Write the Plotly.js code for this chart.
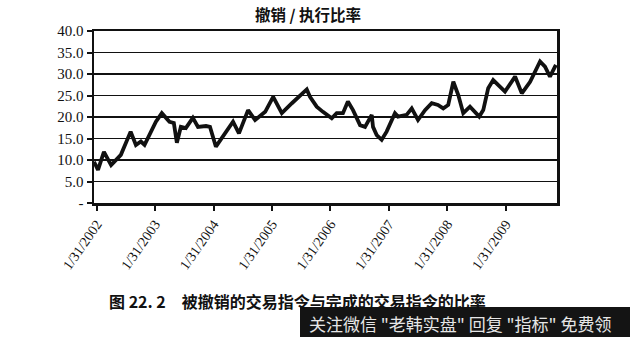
<!DOCTYPE html>
<html>
<head>
<meta charset="utf-8">
<script src="https://cdn.plot.ly/plotly-3.0.1.min.js"></script>
<style>html,body{margin:0;padding:0;background:#fff;}#chart{width:630px;height:337px;}</style>
</head>
<body>
<div id="chart"></div>
<script>
var chartTitle = "撤销 / 执行比率";
var caption = "图 22. 2　被撤销的交易指令与完成的交易指令的比率";
var watermark = "关注微信 \"老韩实盘\" 回复 \"指标\" 免费领";

var dates = ["2002-01-14","2002-02-08","2002-03-17","2002-05-01","2002-07-01","2002-08-31","2002-10-03","2002-11-03","2002-11-26",
"2003-01-05","2003-02-05","2003-03-14","2003-05-01","2003-05-28","2003-06-16","2003-07-11","2003-08-11","2003-09-24","2003-10-26","2003-12-15",
"2004-01-09","2004-02-15","2004-04-12","2004-06-01","2004-07-08","2004-09-03","2004-10-17","2004-12-19",
"2005-02-07","2005-04-02","2005-06-04","2005-07-25","2005-09-05","2005-09-25","2005-11-06","2005-12-15",
"2006-02-08","2006-03-11","2006-04-19","2006-05-20","2006-06-21","2006-08-04","2006-09-04","2006-10-16","2006-10-24","2006-11-16","2006-12-17",
"2007-01-17","2007-03-10","2007-03-29","2007-05-22","2007-06-23","2007-08-01","2007-09-14","2007-10-26","2007-12-04",
"2008-01-06","2008-02-06","2008-03-09","2008-04-09","2008-05-10","2008-06-21","2008-08-18","2008-09-12","2008-10-13","2008-11-13","2008-12-15",
"2009-01-26","2009-03-30","2009-05-11","2009-07-02","2009-09-02","2009-10-03","2009-11-03","2009-12-10"];
var ratio = [9.6,7.7,11.9,8.8,11.2,16.6,13.5,14.3,13.5,
16.3,18.9,20.9,18.9,18.6,14.0,17.7,17.4,19.8,17.7,17.9,
17.7,13.1,16.2,18.9,16.2,21.6,19.3,21.2,
24.7,20.9,23.2,25.1,26.4,24.7,22.4,21.2,
19.7,20.9,20.9,23.6,21.6,18.1,17.7,20.5,17.7,15.8,14.7,
16.6,20.9,20.1,20.5,22.0,19.3,21.6,23.2,22.8,
22.0,22.8,28.2,25.1,20.9,22.4,20.1,21.6,26.7,28.6,27.4,
25.9,29.4,25.5,28.2,32.9,31.7,29.4,32.1];

var xTickVals = ["2002-01-31","2003-01-31","2004-01-31","2005-01-31","2006-01-31","2007-01-31","2008-01-31","2009-01-31"];
var xTickText = ["1/31/2002","1/31/2003","1/31/2004","1/31/2005","1/31/2006","1/31/2007","1/31/2008","1/31/2009"];
var yTickVals = [0,5,10,15,20,25,30,35,40];
var yTickText = ["-","5.0","10.0","15.0","20.0","25.0","30.0","35.0","40.0"];

var trace = {x: dates, y: ratio, type: "scatter", mode: "lines",
  line: {color: "#111", width: 3.8, shape: "linear"}, hoverinfo: "skip"};

var serif = "Liberation Serif, Times New Roman, serif";
var cjk = "Noto Sans CJK SC, sans-serif";

var layout = {
  width: 630, height: 337,
  margin: {l: 94, r: 73, t: 31, b: 134, pad: 0},
  paper_bgcolor: "#fff", plot_bgcolor: "#fff",
  showlegend: false,
  title: {text: "<b>" + chartTitle + "</b>", font: {family: cjk, size: 15.5, color: "#111"},
    x: 0.489, xanchor: "center", y: 0.955, yanchor: "middle"},
  xaxis: {type: "date", range: ["2002-01-14","2009-12-17"],
    tickmode: "array", tickvals: xTickVals, ticktext: xTickText, tickangle: -55,
    ticks: "outside", ticklen: 5, tickwidth: 2, tickcolor: "#111",
    showgrid: false, showline: true, linewidth: 2.5, linecolor: "#111", mirror: true,
    tickfont: {family: serif, size: 14, color: "#111"}, zeroline: false},
  yaxis: {range: [0, 40], tickmode: "array", tickvals: yTickVals, ticktext: yTickText,
    ticks: "outside", ticklen: 5, tickwidth: 2, tickcolor: "#111",
    showgrid: true, gridcolor: "#111", gridwidth: 1.5,
    showline: true, linewidth: 2.5, linecolor: "#111", mirror: true,
    tickfont: {family: serif, size: 15, color: "#111"}, zeroline: false},
  shapes: [{type: "rect", xref: "paper", yref: "paper", layer: "above",
    x0: (300 - 94) / 463, x1: (630 - 94) / 463, y0: -(337 - 203) / 172, y1: -(307 - 203) / 172,
    fillcolor: "#141414", line: {width: 0}}],
  annotations: [
    {text: "<b>" + caption + "</b>", xref: "paper", yref: "paper",
     x: (107 - 94) / 463, y: -(301 - 203) / 172, xanchor: "left", yanchor: "middle",
     showarrow: false, font: {family: cjk, size: 16, color: "#111"}},
    {text: watermark, xref: "paper", yref: "paper",
     x: (307 - 94) / 463, y: -(323 - 203) / 172, xanchor: "left", yanchor: "middle",
     showarrow: false, font: {family: cjk, size: 17, color: "#e6e6e6"}}
  ]
};

Plotly.newPlot("chart", [trace], layout, {staticPlot: true, displayModeBar: false});
</script>
</body>
</html>
